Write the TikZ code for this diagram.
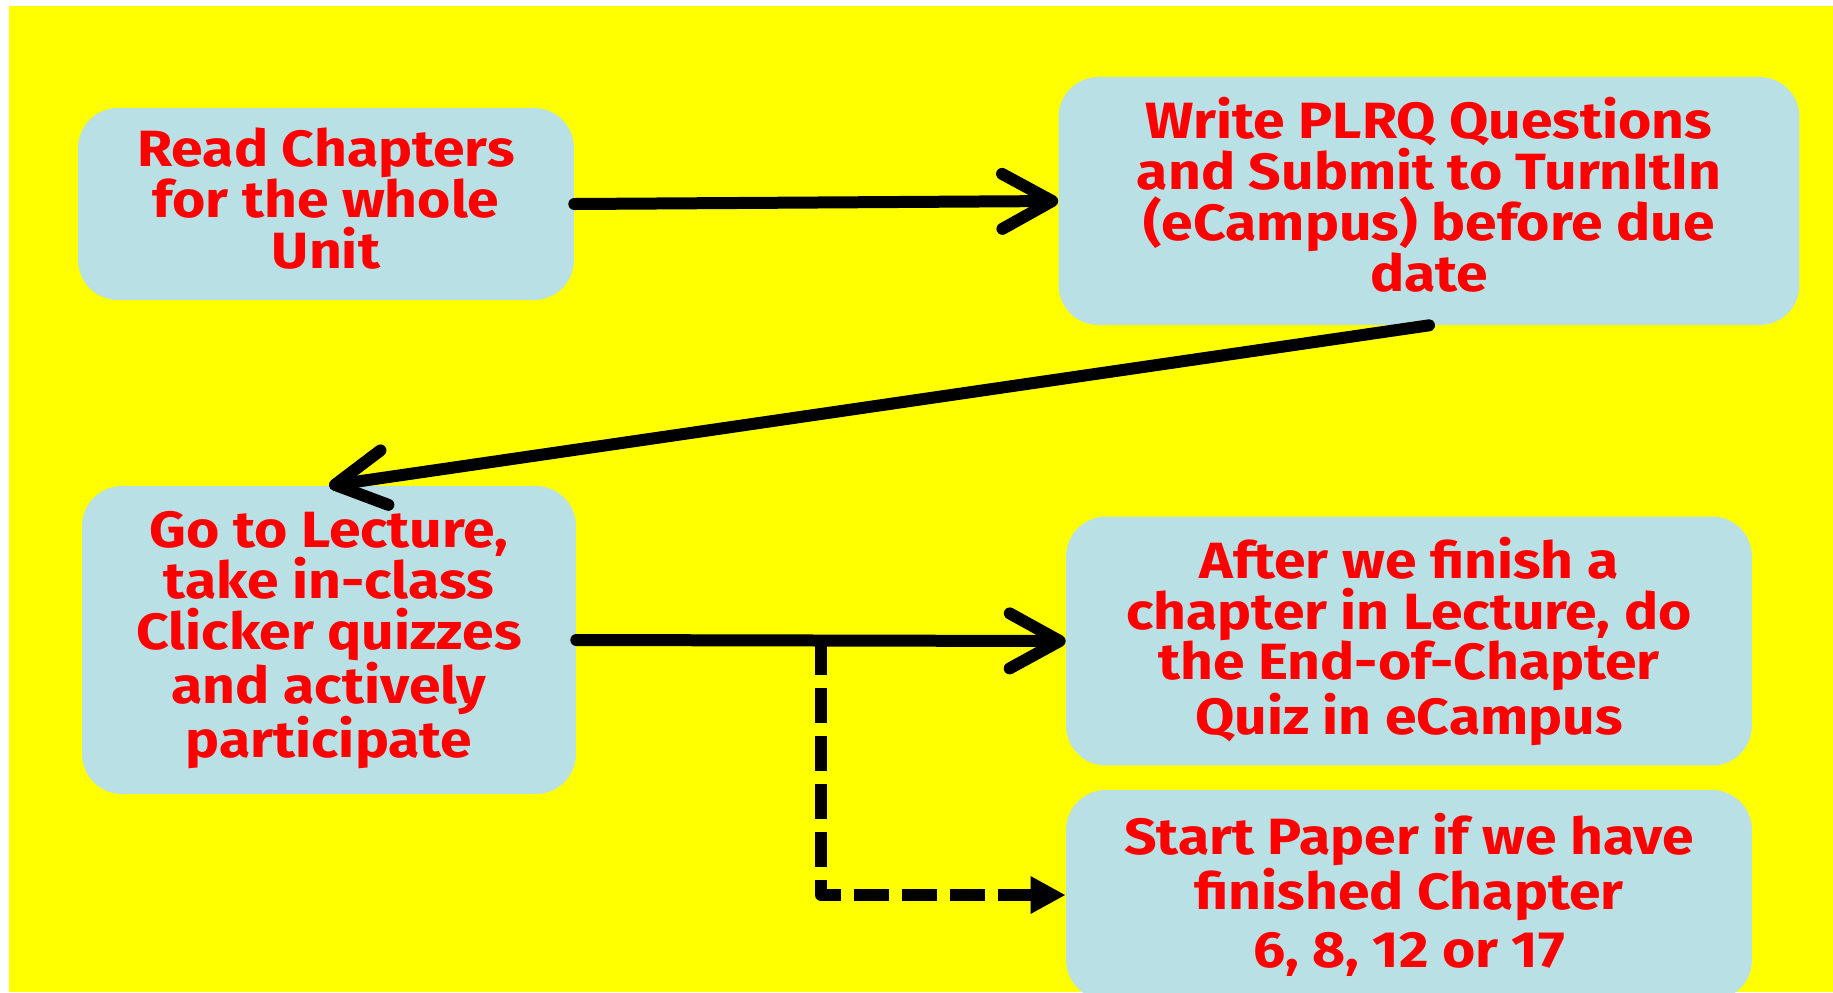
\documentclass[tikz,border=0pt]{standalone}
\usepackage{fontspec}
\setmainfont{Fira Sans}[FakeStretch=1.12]
\usetikzlibrary{arrows.meta}

\definecolor{bgyellow}{RGB}{255,255,0}
\definecolor{boxblue}{RGB}{185,224,228}
\definecolor{txtred}{RGB}{255,0,0}

\tikzset{
  stepbox/.style={fill=boxblue, rounded corners=0.8cm, text=txtred, align=center,
    inner sep=0pt, font=\bfseries\fontsize{29}{29}\selectfont},
  flow/.style={line width=0.24cm, line cap=round,
    {-Straight Barb[length=1cm,width=1.1cm,round]}},
  maybe/.style={line width=0.24cm, line join=round, dash pattern=on 0.7cm off 0.26cm,
    {-Triangle[length=0.7cm,width=0.7cm]}}
}

\begin{document}
\begin{tikzpicture}[x=0.02cm,y=-0.02cm]
  \useasboundingbox (0,0) rectangle (1833,992);
  \fill[bgyellow] (9,6) rectangle (1833,992);

  % boxes, centres in pixels
  \node[stepbox, minimum width=9.92cm, minimum height=3.84cm] (read) at (326,204)
    {Read Chapters\\for the whole\\Unit\\[-0.8cm]};
  \node[stepbox, minimum width=14.82cm, minimum height=4.96cm] (plrq) at (1429,201)
    {Write PLRQ Questions\\and Submit to TurnItIn\\(eCampus) before due\\date\\[-0.76cm]};
  \node[stepbox, minimum width=9.88cm, minimum height=6.16cm] (lecture) at (329,640)
    {Go to Lecture,\\take in-class\\Clicker quizzes\\and actively\\participate};
  \node[stepbox, minimum width=13.72cm, minimum height=4.98cm] (quiz) at (1409,641)
    {After we finish a\\chapter in Lecture, do\\the End-of-Chapter\\Quiz in eCampus\\[-0.8cm]};
  \node[stepbox, minimum width=13.72cm, minimum height=4.2cm] (paper) at (1409,895)
    {Start Paper if we have\\finished Chapter\\[0.15cm]6, 8, 12 or 17};

  \draw[flow] (read.east) -- (plrq.west);
  \draw[flow] (plrq.south) -- (lecture.north);
  \draw[flow] (lecture.east) -- (quiz.west);

  % optional branch to the paper
  \coordinate (split) at (821,640);
  \draw[maybe] (split) |- (paper.west);
\end{tikzpicture}
\end{document}
